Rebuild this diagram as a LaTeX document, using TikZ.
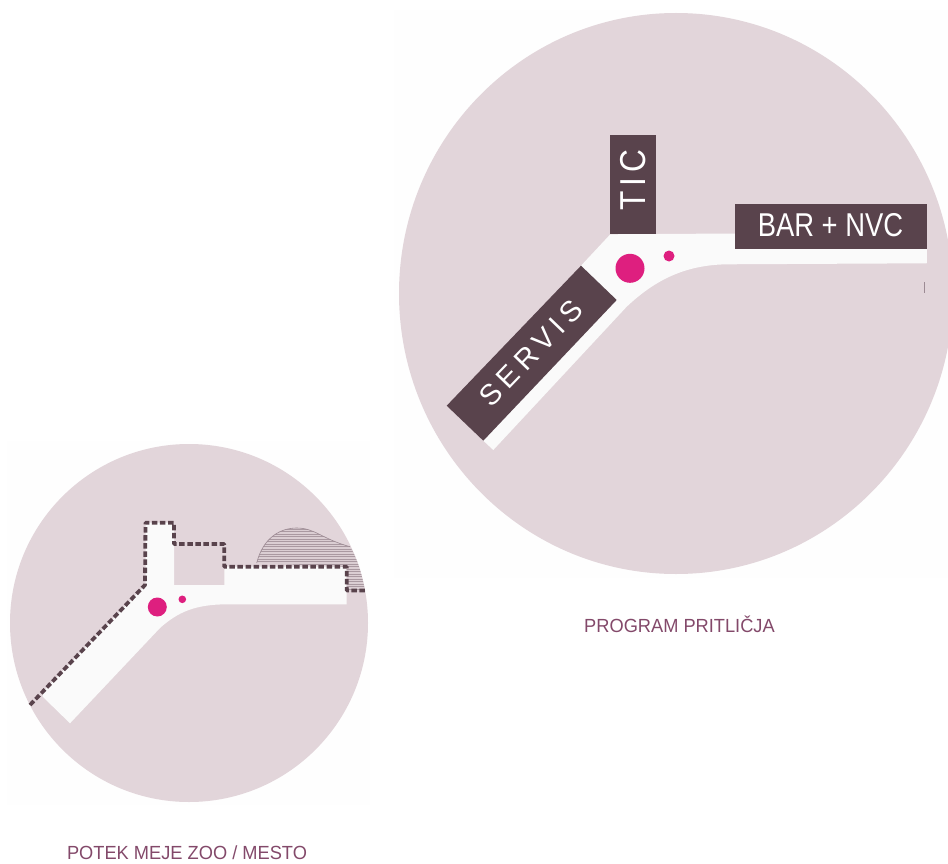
\documentclass[tikz,border=0pt]{standalone}
\usepackage{fontspec}
\setmainfont{Liberation Sans}
\newfontfamily\spacedfont[LetterSpace=20]{Liberation Sans}
\newfontfamily\ticfont[LetterSpace=16]{Liberation Sans}
\definecolor{disc}{HTML}{E2D5DA}
\definecolor{block}{HTML}{59434C}
\definecolor{walk}{HTML}{FAFAFA}
\definecolor{accent}{HTML}{DE1F7F}
\definecolor{caption}{HTML}{83496A}
\definecolor{hatch}{HTML}{9C8A93}
\definecolor{haze}{HTML}{FEFEFE}
\tikzset{
  discshape/.style={fill=disc,draw=none},
  walkshape/.style={fill=walk,draw=none},
  labelbox/.style={fill=block,draw=none},
  boxtext/.style={text=white,inner sep=0pt},
  captiontext/.style={text=caption,inner sep=0pt,font=\fontsize{19}{19}\selectfont},
  boundary/.style={draw=block,line width=3.8pt,dash pattern=on 5.5pt off 2.6pt,line join=round},
  dot/.style={fill=accent,draw=none}
}
\begin{document}
\begin{tikzpicture}[x=1pt,y=-1pt]
\useasboundingbox (0,0) rectangle (948,864);
% faint backgrounds
\fill[haze] (394,10) rectangle (948,578);
\fill[haze] (7,441) rectangle (370,805);
% large disc
\begin{scope}
\clip (0,0) rectangle (948,864);
\fill[discshape] (676,293.5) ellipse [x radius=277, y radius=280.5];
\end{scope}
% small disc
\fill[discshape] (189,623) circle [radius=179];
% large walkway
\fill[walkshape] (610.3,234.3) -- (735,233.5) -- (926.7,250) -- (926.7,263.3) -- (726.7,264.3)
  .. controls (685,265) and (655,280) .. (626.7,306.7) -- (493.3,450) -- (483.3,440.7) -- (581,265.7) -- cycle;
\fill[walkshape] (735,233.5) rectangle (926.7,263.3);
% labels
\fill[labelbox] (610.3,135) rectangle (656,234.3);
\fill[labelbox] (735,204.3) rectangle (926.7,249.3);
\fill[labelbox] (446.7,405.7) -- (581,265.7) -- (616.7,300) -- (483.3,440.7) -- cycle;
\node[boxtext,rotate=90] (tic) at (633,180) {\fontsize{36}{36}\ticfont\scalebox{.88}[1]{TIC}};
\node[boxtext] (bar) at (830.5,225.5) {\fontsize{33}{33}\selectfont\scalebox{.83}[1]{BAR + NVC}};
\node[boxtext,rotate=46] (servis) at (531,353) {\fontsize{29}{29}\spacedfont SERVIS};
\fill[dot] (630,268.3) circle [radius=14.5];
\fill[dot] (669,256) circle [radius=5.5];
\draw[hatch,line width=.6pt] (924.3,282) -- (924.3,293);
\node[captiontext] (cap1) at (679.5,624.5) {\scalebox{.96}[1]{PROGRAM PRITLIČJA}};
% small plan
\fill[walkshape] (145.7,522.7) -- (174,522.7) -- (174,585) -- (224.3,585) -- (224.3,566.7) -- (346.7,566.7)
  -- (346.7,604.3) -- (226.7,604.3) .. controls (195,604.5) and (178,612) .. (160,628)
  -- (70,723.3) -- (42.7,696.7) -- (42.7,692) -- (145.5,585) -- cycle;
\begin{scope}
\clip (256.7,563) .. controls (263,538) and (280,528) .. (296.7,528)
  .. controls (315,528) and (322,539) .. (350,546.7)
  .. controls (358,560) and (362,575) .. (365,591) -- (346.7,591) -- (346.7,566.7) -- cycle;
\fill[disc!90!hatch] (240,520) rectangle (370,595);
\foreach \ly in {529,531.5,...,594}
  \draw[hatch!80!disc,line width=.5pt] (240,\ly) -- (370,\ly);
\end{scope}
\draw[hatch,line width=.6pt] (256.7,563) .. controls (263,538) and (280,528) .. (296.7,528)
  .. controls (315,528) and (322,539) .. (350,546.7);
\path[boundary] (30,705) -- (145,585) -- (145.5,522.7) -- (174,522.7) -- (174,544) -- (224.3,544)
  -- (224.3,566.7) -- (346.7,566.7) -- (346.7,590.5) -- (365,590.5);
\fill[dot] (157.3,607) circle [radius=9.5];
\fill[dot] (182.3,599.3) circle [radius=3.8];
\node[captiontext] (cap2) at (187,853) {\scalebox{.96}[1]{POTEK MEJE ZOO / MESTO}};
\end{tikzpicture}
\end{document}
